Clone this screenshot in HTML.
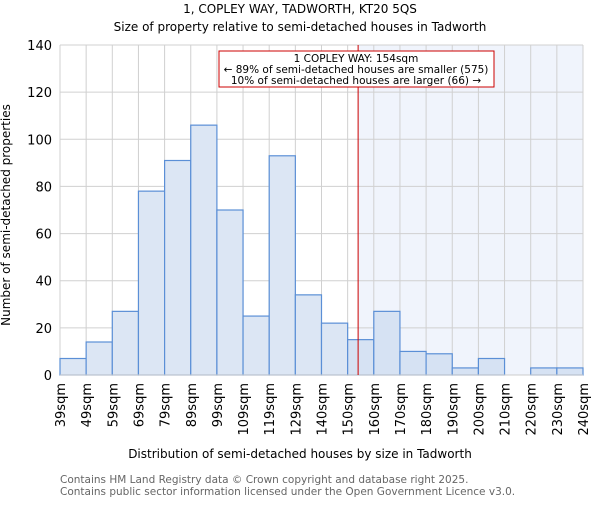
<!DOCTYPE html>
<html><head><meta charset="utf-8"><style>
body{margin:0;background:#fff}
text{font-family:"DejaVu Sans","Liberation Sans",sans-serif}
</style></head><body>
<svg width="600" height="500" xmlns="http://www.w3.org/2000/svg">
<text x="300" y="13" text-anchor="middle" font-size="12">1, COPLEY WAY, TADWORTH, KT20 5QS</text>
<text x="300" y="31" text-anchor="middle" font-size="12">Size of property relative to semi-detached houses in Tadworth</text>
<g id="plot"></g>
<text x="300" y="458" text-anchor="middle" font-size="12">Distribution of semi-detached houses by size in Tadworth</text>
<text transform="translate(10,215) rotate(-90)" text-anchor="middle" font-size="12">Number of semi-detached properties</text>
<text x="60" y="483" font-size="10.5" fill="#666">Contains HM Land Registry data © Crown copyright and database right 2025.</text>
<text x="60" y="495" font-size="10.5" fill="#666">Contains public sector information licensed under the Open Government Licence v3.0.</text>
</svg>
<script>
const categories=["39sqm","49sqm","59sqm","69sqm","79sqm","89sqm","99sqm","109sqm","119sqm","129sqm","140sqm","150sqm","160sqm","170sqm","180sqm","190sqm","200sqm","210sqm","220sqm","230sqm","240sqm"];
const counts=[7,14,27,78,91,106,70,25,93,34,22,15,27,10,9,3,7,0,3,3];
const yTicks=[0,20,40,60,80,100,120,140];
const markerBin=11.4;
const NS="http://www.w3.org/2000/svg";
const g=document.getElementById('plot');
const L=60,R=583,T=45,B=375,yMax=140;
const n=counts.length;
const x=i=>L+(R-L)*i/n;
const y=v=>B-(B-T)*v/yMax;
function mk(t,a){const e=document.createElementNS(NS,t);for(const k in a)e.setAttribute(k,a[k]);g.appendChild(e);return e;}
const mx=x(markerBin);
let e=mk('rect',{x:mx,y:T,width:R-mx,height:B-T,fill:'#f0f4fc'});


for(let i=0;i<=n;i++){e=mk('line',{x1:x(i),x2:x(i),y1:T,y2:B,stroke:'#d0d0d0'});

}
yTicks.forEach(v=>{e=mk('line',{x1:L,x2:R,y1:y(v),y2:y(v),stroke:'#d0d0d0'});


e=mk('text',{x:L-8,y:y(v)+5,'text-anchor':'end','font-size':13});e.textContent=v;

});
counts.forEach((c,i)=>{if(c<=0)return;e=mk('rect',{x:x(i),y:y(c),width:x(i+1)-x(i),height:B-y(c),fill:i>=11?'#d6e2f3':'#dce6f4',stroke:'#5b8fd6','stroke-width':1.2});

});
e=mk('line',{x1:L,x2:R,y1:B,y2:B,stroke:'#ccc'});


categories.forEach((c,i)=>{e=mk('text',{transform:`translate(${x(i)+5},383) rotate(-90)`,'text-anchor':'end','font-size':13});e.textContent=c;

});
e=mk('line',{x1:mx,x2:mx,y1:T,y2:B,stroke:'#cc0000','stroke-width':1});


e=mk('rect',{x:219,y:51,width:275,height:36,fill:'#fff',stroke:'#cc0000'});


[["1 COPLEY WAY: 154sqm",62],["← 89% of semi-detached houses are smaller (575)",73],["10% of semi-detached houses are larger (66) →",84]].forEach(([t,yy])=>{e=mk('text',{x:356,y:yy,'text-anchor':'middle','font-size':10.5});e.textContent=t;

});
</script>
</body></html>
